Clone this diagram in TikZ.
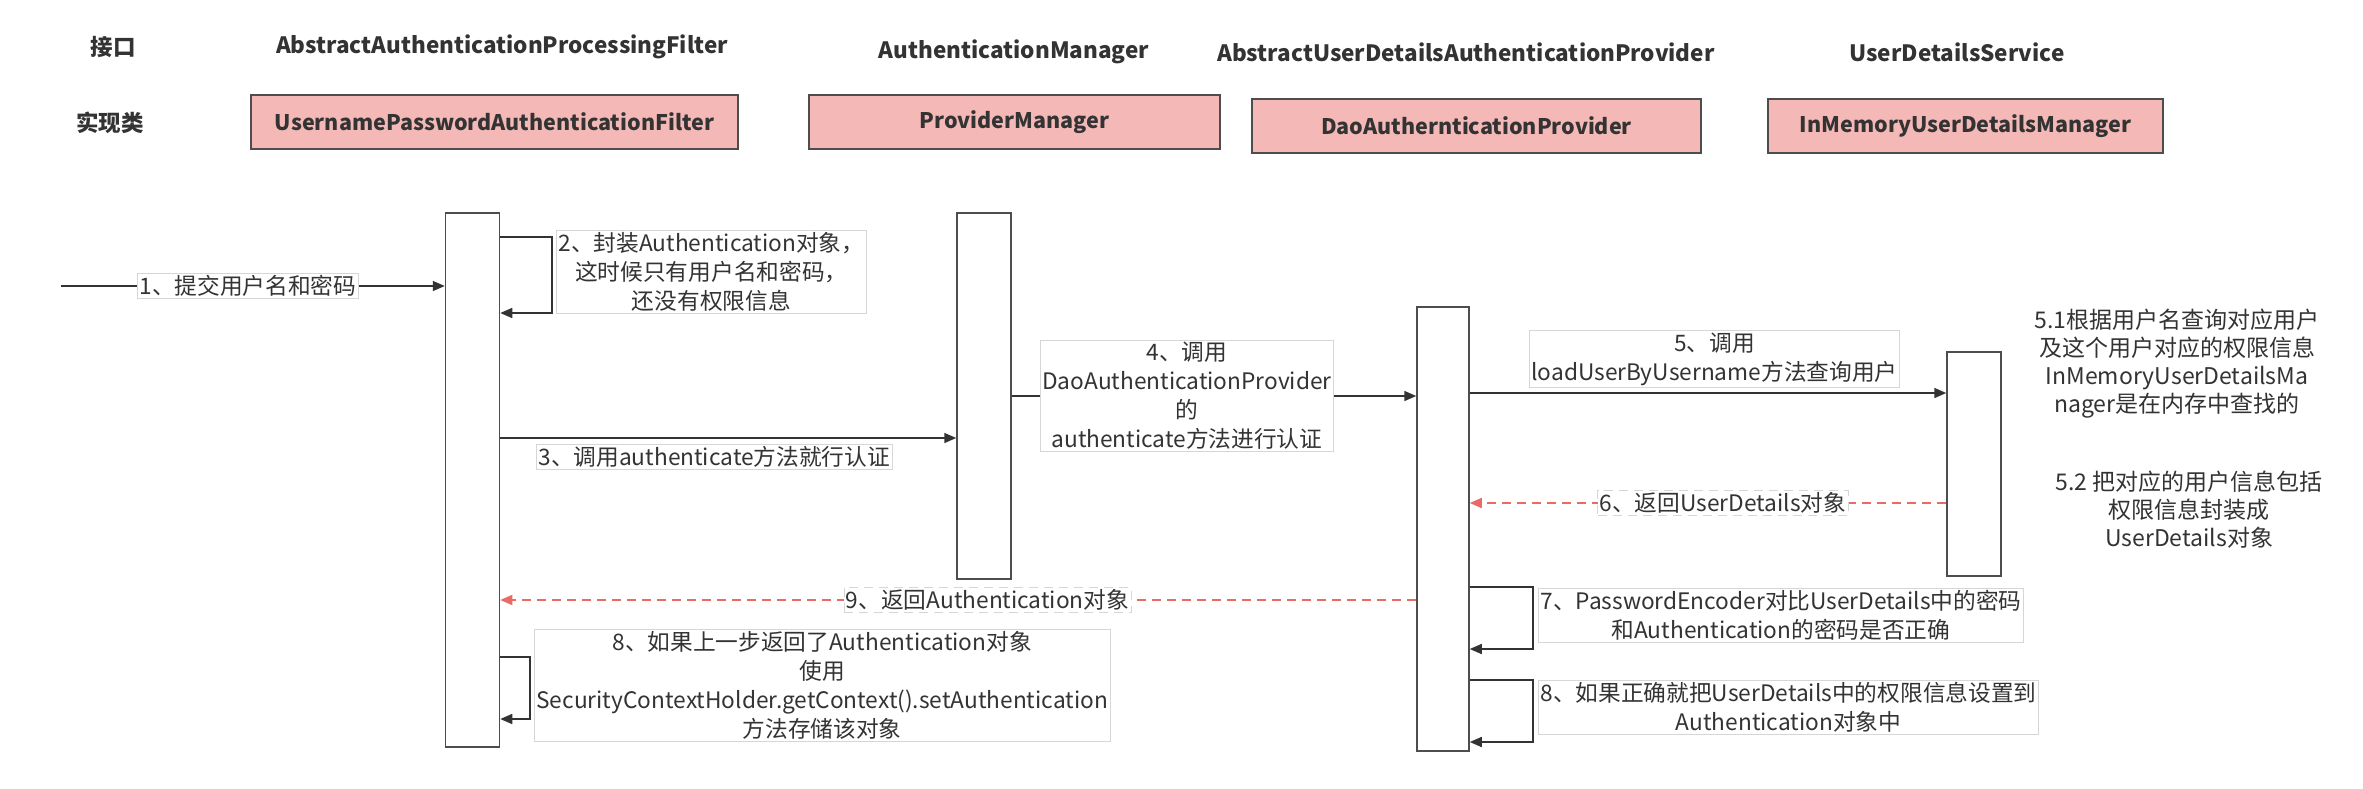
\documentclass[tikz,border=0pt]{standalone}
\usepackage{fontspec}
\setmainfont{Noto Sans CJK SC}
\usetikzlibrary{arrows.meta}
\definecolor{implfill}{HTML}{F4B8B7}
\definecolor{edge}{HTML}{4D4D4D}
\definecolor{txt}{HTML}{333333}
\definecolor{retred}{HTML}{EA6B66}
\definecolor{lblgray}{HTML}{D6D6D6}
\begin{document}
\begin{tikzpicture}[x=1pt,y=-1pt,
	every node/.style={text=txt},
	head/.style={font=\fontsize{22.5}{26}\selectfont\bfseries},
	impl/.style={draw=edge, line width=1.5pt, fill=implfill, minimum height=54pt, inner sep=0pt, font=\fontsize{21.5}{25}\selectfont\bfseries},
	life/.style={draw=edge, line width=1.5pt, fill=white, minimum width=54pt, inner sep=0pt},
	lbl/.style={draw=lblgray, line width=0.8pt, fill=white, align=center, inner xsep=2pt, inner ysep=2pt, font=\fontsize{22.7}{29}\selectfont},
	msg/.style={draw=txt, line width=1.6pt, -{Triangle[length=12pt,width=10pt]}},
	ret/.style={draw=retred, line width=1.6pt, dash pattern=on 9pt off 6pt, -{Triangle[length=12pt,width=10pt]}},
	note/.style={align=center, font=\fontsize{23}{28}\selectfont}]
		\useasboundingbox (0,0) rectangle (2363,788);
		%
		\node[head] (iface) at (113,47) {接口};
		\node[head] (implcls) at (110,123) {实现类};
		\node[head] (h1) at (502,47) {AbstractAuthenticationProcessingFilter};
		\node[head] (h2) at (1014,52) {AuthenticationManager};
		\node[head] (h3) at (1466,52) {AbstractUserDetailsAuthenticationProvider};
		\node[head] (h4) at (1957,52) {UserDetailsService};
		%
		\node[impl, minimum width=487pt] (upaf) at (494.5,122) {UsernamePasswordAuthenticationFilter};
		\node[impl, minimum width=411pt] (pm) at (1014.5,122) {ProviderManager};
		\node[impl, minimum width=449pt] (dao) at (1476.5,126) {DaoAuthernticationProvider};
		\node[impl, minimum width=395pt] (imudm) at (1965.5,126) {InMemoryUserDetailsManager};
		%
		\node[life, minimum height=534pt] (filter) at (472.5,480) {};
		\node[life, minimum height=366pt] (manager) at (984,396) {};
		\node[life, minimum width=52pt, minimum height=444pt] (provider) at (1443,529) {};
		\node[life, minimum height=224pt] (service) at (1974,464) {};
		%
		\coordinate (user) at (61,286);
		\draw[msg] (user) -- (user -| filter.west) node[lbl, pos=0.487] (m1) {1、提交用户名和密码};
		\draw[msg] (filter.east |- 0,237) -- ++(52,0) |- (filter.east |- 0,313);
		\node[lbl, anchor=west] (m2) at (556,272) {2、封装Authentication对象，\\这时候只有用户名和密码，\\还没有权限信息};
		\draw[msg] (filter.east |- 0,438) -- (manager.west |- 0,438);
		\node[lbl, anchor=west] (m3) at (536,457) {3、调用authenticate方法就行认证};
		\draw[msg] (manager.east |- 0,396) -- (provider.west |- 0,396) node[lbl, pos=0.433] (m4) {4、调用\\DaoAuthenticationProvider\\的\\authenticate方法进行认证};
		\draw[msg] (provider.east |- 0,393) -- (service.west |- 0,393);
		\node[lbl, anchor=west] (m5) at (1529,359) {5、调用\\loadUserByUsername方法查询用户};
		\draw[ret] (service.west |- 0,503) -- (provider.east |- 0,503) node[lbl, pos=0.469] (m6) {6、返回UserDetails对象};
		%
		\node[note] (n51) at (2177,364) {5.1根据用户名查询对应用户\\及这个用户对应的权限信息\\InMemoryUserDetailsMa\\nager是在内存中查找的};
		\node[note] (n52) at (2189,510) {5.2 把对应的用户信息包括\\权限信息封装成\\UserDetails对象};
		%
		\draw[msg] (provider.east |- 0,587) -- ++(63,0) |- (provider.east |- 0,649);
		\node[lbl, anchor=west] (m7) at (1538,615) {7、PasswordEncoder对比UserDetails中的密码\\和Authentication的密码是否正确};
		\draw[msg] (provider.east |- 0,680) -- ++(63,0) |- (provider.east |- 0,742);
		\node[lbl, anchor=west] (m8b) at (1538,707) {8、如果正确就把UserDetails中的权限信息设置到\\Authentication对象中};
		%
		\draw[ret] (provider.west |- 0,600) -- (filter.east |- 0,600) node[lbl, pos=0.468] (m9) {9、返回Authentication对象};
		\draw[msg] (filter.east |- 0,657) -- ++(30,0) |- (filter.east |- 0,719);
		\node[lbl, anchor=west] (m8) at (534,685) {8、如果上一步返回了Authentication对象\\使用\\SecurityContextHolder.getContext().setAuthentication\\方法存储该对象};
		%
\end{tikzpicture}
\end{document}
